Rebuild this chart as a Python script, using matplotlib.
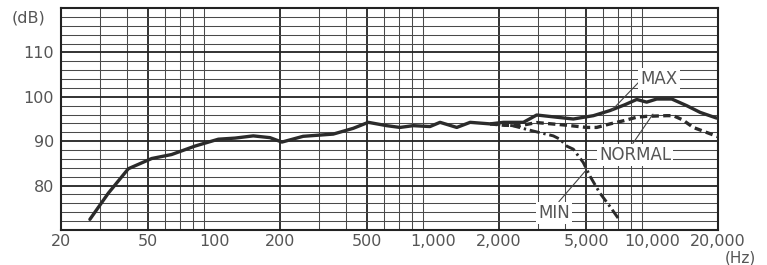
import matplotlib
matplotlib.use("Agg")
import matplotlib.pyplot as plt
from matplotlib.ticker import FixedLocator, NullFormatter
import numpy as np

# response (Hz, dB)
max_freq = [27.1, 32.9, 40.6, 51.9, 64, 81.8, 104.6, 124.7, 151, 180, 204, 255, 350, 432, 506,
            614, 706, 812, 968, 1076, 1283, 1477, 1822, 2095, 2584, 2973, 3668, 4370, 5398,
            6423, 7500, 8512, 9450, 10500, 12300, 14400, 16560, 19730]
max_db = [72.4, 78.3, 83.8, 86.1, 87.0, 88.9, 90.45, 90.7, 91.2, 90.8, 89.8, 91.1, 91.6, 92.9, 94.25,
          93.5, 93.1, 93.5, 93.3, 94.25, 93.1, 94.25, 93.9, 94.25, 94.25, 95.9, 95.4, 95.0, 95.75,
          96.9, 98.2, 99.4, 98.8, 99.5, 99.5, 98.0, 96.5, 95.2]

normal_freq = [1822, 2095, 2495, 2973, 3668, 4075, 5024, 5584, 6430, 7400, 8500, 9450, 11670,
               12500, 13800, 15420, 19060, 20000]
normal_db = [93.9, 93.6, 93.5, 94.2, 93.8, 93.6, 93.1, 93.1, 93.9, 94.6, 95.4, 95.6, 95.75,
             95.75, 94.8, 93.1, 91.4, 91.0]

min_freq = [1822, 2300, 2860, 3540, 3795, 4075, 4370, 4850, 5210, 5780, 6420, 7015]
min_db = [93.9, 93.5, 92.3, 91.2, 90.45, 88.9, 88.2, 85.2, 82.1, 78.3, 75.3, 72.6]

x_ticks = [20, 50, 100, 200, 500, 1000, 2000, 5000, 10000, 20000]
x_labels = ["20", "50", "100", "200", "500", "1,000", "2,000", "5,000", "10,000", "20,000"]
y_ticks = [80, 90, 100, 110]

ink = "#2b2b2b"
txt = "#555555"

fig = plt.figure(figsize=(7.67, 2.65), dpi=100)
ax = fig.add_axes([61 / 767, 1 - 230 / 265, 657 / 767, 222 / 265])
ax.set_xscale("log")
ax.set_xlim(20, 20000)
ax.set_ylim(70, 120)

# paper grid
minor_x = [f * d for d in (10, 100, 1000) for f in range(2, 10)] + [20000]
for f in minor_x:
    major = f in x_ticks
    ax.axvline(f, color="#222222" if major else "#4a4a4a", lw=1.3 if major else 0.75, zorder=1)
for v in range(72, 120, 2):
    major = v % 10 == 0
    ax.axhline(v, color="#222222" if major else "#4a4a4a", lw=1.3 if major else 0.75, zorder=1)

ax.plot(max_freq, max_db, color=ink, lw=2.4, solid_capstyle="round", zorder=4)
ax.plot(normal_freq, normal_db, color=ink, lw=2.4, dashes=(2.2, 1.3), zorder=3)
ax.plot(min_freq, min_db, color=ink, lw=2.1, dashes=(3.5, 1.3, 0.8, 1.3), zorder=3)

box = dict(facecolor="white", edgecolor="none", pad=1.5)
ax.annotate("MAX", xy=(6560, 97.0), xytext=(10760, 104.1), ha="center", va="center",
            fontsize=12, color=txt, bbox=box, zorder=6,
            arrowprops=dict(arrowstyle="-", color="#444444", lw=0.8, shrinkA=0, shrinkB=0,
                            relpos=(0.0, 0.4)))
ax.annotate("NORMAL", xy=(10090, 96.1), xytext=(8360, 87.0), ha="center", va="center",
            fontsize=12, color=txt, bbox=box, zorder=6,
            arrowprops=dict(arrowstyle="-", color="#444444", lw=0.8, shrinkA=0, shrinkB=0,
                            relpos=(0.45, 1.0)))
ax.annotate("MIN", xy=(4940, 83.2), xytext=(3565, 73.9), ha="center", va="center",
            fontsize=12, color=txt, bbox=box, zorder=6,
            arrowprops=dict(arrowstyle="-", color="#444444", lw=0.8, shrinkA=0, shrinkB=0,
                            relpos=(0.6, 1.0)))

ax.xaxis.set_major_locator(FixedLocator(x_ticks))
ax.xaxis.set_minor_formatter(NullFormatter())
ax.xaxis.set_minor_locator(FixedLocator([]))
ax.set_xticklabels(x_labels)
ax.set_yticks(y_ticks)
ax.tick_params(length=0, labelsize=11.5, labelcolor=txt, pad=5)
ax.tick_params(axis="x", pad=3)
for s in ax.spines.values():
    s.set_color("#222222")
    s.set_linewidth(1.5)

fig.text(12 / 767, 1 - 18 / 265, "(dB)", fontsize=11.5, color=txt, va="center", ha="left")
fig.text(740 / 767, 1 - 258 / 265, "(Hz)", fontsize=11, color=txt, va="center", ha="center")

fig.savefig("out.png", dpi=100, facecolor="white")
